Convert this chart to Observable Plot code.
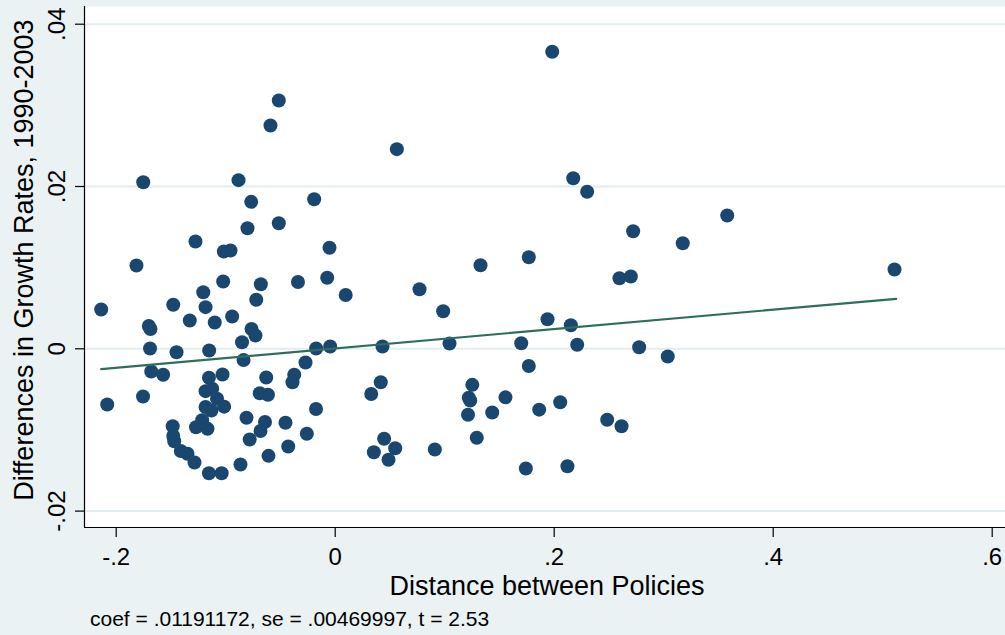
<!DOCTYPE html>
<html>
<head>
<meta charset="utf-8">
<script src="https://cdn.jsdelivr.net/npm/d3@7"></script>
<script src="https://cdn.jsdelivr.net/npm/@observablehq/plot@0.6"></script>
<style>
  html, body { margin: 0; padding: 0; background: #EAF2F3; overflow: hidden; }
  #wrap { position: relative; width: 1005px; height: 635px; }
  #caption { position: absolute; left: 90px; top: 608px; font-family: "Liberation Sans", Arial, sans-serif; font-size: 21px; line-height: 21px; color: #000; white-space: pre; }
</style>
</head>
<body>
<div id="wrap"><div id="chart"></div><div id="caption"></div></div>
<script>
// Distance between Policies (residualised x)
const distance = [
  0.1982, -0.0515, -0.0591, 0.0563, 0.2174, -0.1753, -0.0883, 0.2301, -0.0192, -0.0767,
  0.3580, -0.0515, -0.0801, 0.2721, -0.1276, -0.1017, -0.0956, -0.0052, 0.3174, 0.1768,
  0.1327, -0.1815, 0.5108, 0.2596, 0.2700, -0.1023, -0.0679, -0.0340, -0.0073, 0.0770,
  -0.1205, 0.0096, -0.0721, -0.1479, -0.1184, -0.2137, 0.0986, -0.0941, -0.1328, -0.1100,
  0.1939, 0.2152, -0.1702, -0.1687, -0.0764, -0.0728, -0.0851, -0.1691, -0.1449, -0.1151,
  -0.0174, -0.0046, 0.0432, 0.1044, 0.1699, 0.2210, 0.2776, -0.0837, -0.0271, 0.3037,
  0.1768, -0.1680, -0.1571, -0.1153, -0.1029, -0.0630, -0.0374, -0.0390, 0.0416, 0.1252,
  -0.1184, -0.1123, -0.0689, -0.0614, 0.0329, -0.1755, -0.1079, 0.1220, 0.1233, 0.1555,
  -0.2082, 0.2055, -0.1184, -0.1130, -0.1014, -0.0175, 0.1863, 0.1434, 0.1213, -0.0810,
  0.2484, -0.0641, -0.0454, 0.2615, -0.1484, -0.1271, -0.1215, -0.1166, -0.0682, -0.0259,
  -0.1479, -0.1470, 0.0447, 0.1293, -0.0781, -0.0429, 0.0548, 0.0910, -0.1410, -0.1349,
  0.0353, -0.0609, 0.0487, -0.1285, -0.0865, 0.2121, 0.1741, -0.1153, -0.1037
];
// Differences in Growth Rates, 1990-2003 (residualised y)
const growthDiff = [
  0.03660, 0.03060, 0.02752, 0.02460, 0.02102, 0.02053, 0.02078, 0.01935, 0.01843, 0.01811,
  0.01643, 0.01548, 0.01486, 0.01449, 0.01322, 0.01199, 0.01211, 0.01245, 0.01301, 0.01129,
  0.01030, 0.01026, 0.00977, 0.00870, 0.00891, 0.00829, 0.00796, 0.00823, 0.00875, 0.00734,
  0.00697, 0.00663, 0.00604, 0.00542, 0.00513, 0.00484, 0.00463, 0.00398, 0.00349, 0.00324,
  0.00365, 0.00291, 0.00281, 0.00244, 0.00244, 0.00164, 0.00081, 0.00004, -0.00042, -0.00021,
  0.00004, 0.00028, 0.00028, 0.00065, 0.00069, 0.00049, 0.00020, -0.00138, -0.00169, -0.00095,
  -0.00212, -0.00280, -0.00320, -0.00356, -0.00317, -0.00354, -0.00319, -0.00412, -0.00412, -0.00444,
  -0.00522, -0.00493, -0.00547, -0.00567, -0.00557, -0.00588, -0.00616, -0.00604, -0.00637, -0.00598,
  -0.00686, -0.00658, -0.00717, -0.00760, -0.00713, -0.00742, -0.00750, -0.00785, -0.00813, -0.00850,
  -0.00875, -0.00902, -0.00912, -0.00954, -0.00955, -0.00966, -0.00880, -0.00986, -0.01013, -0.01047,
  -0.01075, -0.01140, -0.01109, -0.01097, -0.01118, -0.01204, -0.01225, -0.01241, -0.01259, -0.01294,
  -0.01274, -0.01319, -0.01368, -0.01401, -0.01426, -0.01447, -0.01475, -0.01533, -0.01533
];
// Fitted line endpoints
const fitX = [-0.2137, 0.5123];
const fitY = [-0.00251, 0.00616];
// Ticks
const xTicks = [-0.2, 0, 0.2, 0.4, 0.6];
const yTicks = [-0.02, 0, 0.02, 0.04];
const xTitle = "Distance between Policies";
const yTitle = "Differences in Growth Rates, 1990-2003";
const captionText = "coef = .01191172, se = .00469997, t = 2.53";

const points = distance.map((d, i) => ({x: d, y: growthDiff[i]}));
const fit = fitX.map((d, i) => ({x: d, y: fitY[i]}));
const fmt = d => d === 0 ? "0" : String(d).replace("0.", ".");

const xDomain = [-0.22895, 0.61215];
const yDomain = [-0.022021, 0.042181];
const FONT = "'Liberation Sans', Arial, sans-serif";
const xTickRows = xTicks.map(v => ({x: v, y: yDomain[0]}));
const yTickRows = yTicks.map(v => ({x: xDomain[0], y: v}));

const chart = Plot.plot({
  width: 1005,
  height: 600,
  marginLeft: 84,
  marginRight: 0,
  marginTop: 6,
  marginBottom: 73,
  style: {background: "transparent", fontFamily: FONT, color: "#000", overflow: "visible"},
  x: {type: "linear", domain: xDomain, axis: null},
  y: {type: "linear", domain: yDomain, axis: null},
  marks: [
    Plot.frame({fill: "white", stroke: "none"}),
    Plot.ruleY(yTicks, {stroke: "#E4EDF0", strokeWidth: 2}),
    Plot.ruleX([xDomain[0]], {stroke: "#000", strokeWidth: 1.2}),
    Plot.ruleY([yDomain[0]], {stroke: "#000", strokeWidth: 1.2}),
    Plot.axisX({ticks: xTicks, tickSize: 10, tickFormat: () => "", label: null, stroke: "#000", strokeWidth: 1.2}),
    Plot.axisY({ticks: yTicks, tickSize: 9, tickFormat: () => "", label: null, stroke: "#000", strokeWidth: 1.2}),
    Plot.text(xTickRows, {x: "x", y: "y", text: d => fmt(d.x), dy: 37, lineAnchor: "bottom", textAnchor: "middle", fontSize: 24, fill: "#000"}),
    Plot.text(yTickRows, {x: "x", y: "y", text: d => fmt(d.y), dx: -20, rotate: -90, lineAnchor: "bottom", textAnchor: "middle", fontSize: 24, fill: "#000"}),
    Plot.text([xTitle], {frameAnchor: "bottom", text: d => d, dx: 2, dy: 67, lineAnchor: "bottom", fontSize: 27, fill: "#000"}),
    Plot.text([yTitle], {frameAnchor: "left", text: d => d, dx: -52, dy: -7, rotate: -90, lineAnchor: "bottom", textAnchor: "middle", fontSize: 27, fill: "#000"}),
    Plot.dot(points, {x: "x", y: "y", r: 7, fill: "#1A476F", stroke: "none"}),
    Plot.line(fit, {x: "x", y: "y", stroke: "#2E6E5E", strokeWidth: 2.2})
  ]
});
document.getElementById("chart").appendChild(chart);
document.getElementById("caption").textContent = captionText;
</script>
</body>
</html>
